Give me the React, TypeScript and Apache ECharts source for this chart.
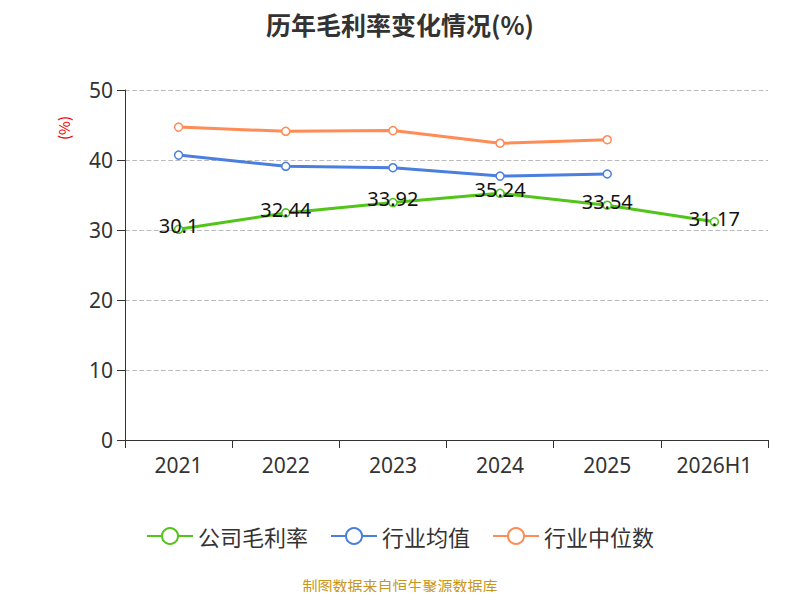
import React, { useEffect, useRef } from 'react';
import * as echarts from 'echarts';

const years = ['2021', '2022', '2023', '2024', '2025', '2026H1'];
const companyMargin = [30.1, 32.44, 33.92, 35.24, 33.54, 31.17];
const industryAvg = [40.7, 39.1, 38.9, 37.7, 38.0];
const industryMedian = [44.7, 44.1, 44.2, 42.4, 42.9];

const App: React.FC = () => {
  const ref = useRef<HTMLDivElement>(null);

  useEffect(() => {
    if (!ref.current) return;
    const chart = echarts.init(ref.current, undefined, { renderer: 'svg' });
    const font = 'Noto Sans CJK SC';
    const line = (name: string, data: number[], color: string, label: boolean) => ({
      name,
      type: 'line' as const,
      data,
      symbol: 'circle',
      symbolSize: 8,
      itemStyle: { color: '#fff', borderColor: color, borderWidth: 1.5 },
      lineStyle: { color, width: 3 },
      label: label
        ? { show: true, position: 'top', offset: [0, 16], fontSize: 20, color: '#111', fontFamily: 'Noto Sans' }
        : { show: false },
    });
    chart.setOption({
      animation: false,
      textStyle: { fontFamily: font },
      title: {
        text: '历年毛利率变化情况(%)',
        left: 'center',
        top: 6,
        textStyle: { fontSize: 25, fontWeight: 'bold', color: '#333', fontFamily: font },
      },
      graphic: [
        {
          type: 'text',
          x: 56,
          y: 140,
          rotation: Math.PI / 2,
          style: { text: '(%)', fill: '#e00', fontSize: 15, fontFamily: font },
        },
        {
          type: 'text',
          left: 'center',
          top: 578,
          style: { text: '制图数据来自恒生聚源数据库', fill: '#c8961e', fontSize: 15, fontFamily: font },
        },
      ],
      legend: {
        bottom: 48,
        left: 'center',
        itemWidth: 46,
        itemHeight: 20,
        itemGap: 22,
        textStyle: { fontSize: 22, color: '#333', fontFamily: font },
        data: ['公司毛利率', '行业均值', '行业中位数'],
      },
      grid: { left: 125, right: 32, top: 90, bottom: 160 },
      xAxis: {
        type: 'category',
        data: years,
        axisLine: { lineStyle: { color: '#333' } },
        axisTick: { show: true, length: 8, lineStyle: { color: '#333' } },
        axisLabel: { fontSize: 21, color: '#333', margin: 14, fontFamily: 'Noto Sans' },
      },
      yAxis: {
        type: 'value',
        min: 0,
        max: 50,
        interval: 10,
        axisLine: { show: true, lineStyle: { color: '#333' } },
        axisTick: { show: true, length: 8, lineStyle: { color: '#333' } },
        axisLabel: { fontSize: 21, color: '#333', margin: 12, fontFamily: 'Noto Sans' },
        splitLine: { lineStyle: { type: 'dashed', color: '#bbb', width: 1.2 } },
      },
      series: [
        line('公司毛利率', companyMargin, '#52c41a', true),
        line('行业均值', industryAvg, '#4a7fe0', false),
        line('行业中位数', industryMedian, '#ff8c55', false),
      ],
    });
    return () => chart.dispose();
  }, []);

  return (
    <div style={{ width: 800, height: 600, margin: -8 }}>
      <div ref={ref} style={{ width: 800, height: 600 }} />
    </div>
  );
};

export default App;
